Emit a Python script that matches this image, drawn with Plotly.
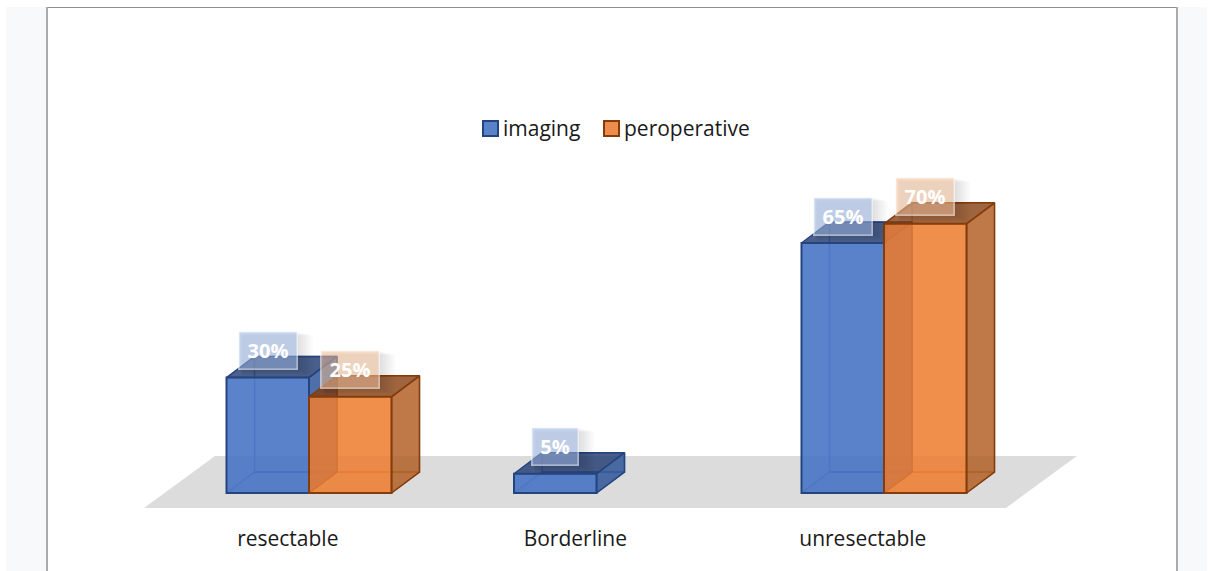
import plotly.graph_objects as go

categories = ["resectable", "Borderline", "unresectable"]
imaging = [30, 5, 65]
peroperative = [25, None, 70]
series_names = ["imaging", "peroperative"]

W, H, MB = 1213, 571, 53
PX_PER_CAT = 287.5
PX_PER_PCT = 3.846
X0_PX, Y0_PX = 309.0, 493.0
BAR_W = 82.5 / PX_PER_CAT
DX = 28 / PX_PER_CAT
DZ = 21 / PX_PER_PCT
PLOT_H = H - MB
x_range = [(0 - X0_PX) / PX_PER_CAT, (W - X0_PX) / PX_PER_CAT]
y_range = [(Y0_PX - PLOT_H) / PX_PER_PCT, Y0_PX / PX_PER_PCT]

BLUE = dict(front="rgba(68,114,196,0.88)", edge="#24447f", back="rgba(47,85,151,0.06)",
            top="rgba(31,56,110,0.8)", side="rgba(47,85,151,0.84)", floor="rgba(68,114,196,0.08)",
            inner="rgba(36,68,127,0.5)", box="rgba(160,187,232,0.55)", swatch="#5a82c9")
ORANGE = dict(front="rgba(237,125,49,0.86)", edge="#843c0c", back="rgba(197,90,17,0.06)",
              top="rgba(132,60,12,0.78)", side="rgba(175,90,30,0.8)", floor="rgba(237,125,49,0.08)",
              inner="rgba(132,60,12,0.4)", box="rgba(246,196,160,0.55)", swatch="#ee8c4b")

fig = go.Figure()


def poly(xs, ys, fill, line=None, width=1.5):
    fig.add_trace(go.Scatter(x=xs + xs[:1], y=ys + ys[:1], mode="lines", fill="toself", fillcolor=fill,
                             line=dict(color=line or "rgba(0,0,0,0)", width=width),
                             hoverinfo="skip", showlegend=False))


# floor
poly([-0.574, 2.424, 2.671, -0.327], [-3.9, -3.9, 9.6, 9.6], "#dcdcdc")

boxes = []
for values, style, off in ((imaging, BLUE, -BAR_W / 2), (peroperative, ORANGE, BAR_W / 2)):
    for i, v in enumerate(values):
        if v is None:
            continue
        c = i + off
        x0, x1 = c - BAR_W / 2, c + BAR_W / 2
        poly([x0, x1, x1 + DX, x0 + DX], [0, 0, DZ, DZ], style["floor"], style["inner"])
        poly([x0 + DX, x1 + DX, x1 + DX, x0 + DX], [DZ, DZ, v + DZ, v + DZ], style["back"], style["inner"])
        poly([x1, x1 + DX, x1 + DX, x1], [0, DZ, v + DZ, v], style["side"], style["edge"])
        poly([x0, x1, x1 + DX, x0 + DX], [v, v, v + DZ, v + DZ], style["top"], style["edge"])
        boxes.append((c, v, style["box"]))

for name, values, style in ((series_names[0], imaging, BLUE), (series_names[1], peroperative, ORANGE)):
    fig.add_trace(go.Bar(x=list(range(len(categories))), y=values, name=name,
                         xaxis="x2", yaxis="y2", showlegend=False,
                         marker=dict(color=style["front"], line=dict(color=style["edge"], width=2)),
                         hoverinfo="skip"))

shapes = []
annotations = []


def px2paper(xp, yp):
    return xp / W, (PLOT_H - yp) / PLOT_H


def panel(x0, y0, x1, y1, color, line=None, layer="below"):
    a, b = px2paper(x0, y0)
    c, d = px2paper(x1, y1)
    shapes.append(dict(type="rect", xref="paper", yref="paper", x0=a, y0=b, x1=c, y1=d,
                       fillcolor=color, line=dict(color=line, width=2) if line else dict(width=0), layer=layer))


panel(6, 7, 46, 571, "#f8f9fb")
panel(1178, 7, 1207, 571, "#f8f9fb")
panel(46, 7, 48, 571, "#ababab")
panel(1176, 7, 1178, 571, "#ababab")
panel(48, 7, 1176, 8, "#8e8e8e")

# legend
for name, style, sw_x, tx_x in ((series_names[0], BLUE, 483, 502), (series_names[1], ORANGE, 604, 623)):
    panel(sw_x, 121, sw_x + 15, 136, style["swatch"], style["edge"])
    a, b = px2paper(tx_x, 128)
    annotations.append(dict(x=a, y=b, xref="paper", yref="paper", text=name, showarrow=False,
                            xanchor="left", yanchor="middle", xshift=-1,
                            font=dict(family="Open Sans", size=21, color="#1a1a1a")))

# data labels with a soft shadow, falling to the right of each box
for c, v, box in boxes:
    half_w = (23 if v < 10 else 29) / PX_PER_CAT
    half_h = 18.5 / PX_PER_PCT
    cy = v + 27 / PX_PER_PCT
    for grow in range(14, -1, -2):
        g_x, g_y = grow / PX_PER_CAT, grow / PX_PER_PCT
        shapes.append(dict(type="rect", xref="x", yref="y", layer="above",
                           x0=c - half_w + g_x / 4, x1=c + half_w + 2 / PX_PER_CAT + g_x,
                           y0=cy - half_h - g_y / 2, y1=cy + half_h - g_y / 4,
                           fillcolor="rgba(0,0,0,0.016)", line_width=0))
    annotations.append(dict(x=c, y=cy, xref="x", yref="y", text=f"<b>{v}%</b>", showarrow=False,
                            width=(46 if v < 10 else 58) - 3, height=34,
                            bgcolor=box, bordercolor="rgba(255,255,255,0.55)", borderwidth=1.5,
                            font=dict(family="Open Sans", size=20, color="white")))

axis_common = dict(range=x_range, showgrid=False, zeroline=False, showline=False, fixedrange=True)
fig.update_layout(
    width=W, height=H, margin=dict(l=0, r=0, t=0, b=MB, pad=0), autosize=False,
    paper_bgcolor="white", plot_bgcolor="rgba(0,0,0,0)", showlegend=False,
    barmode="group", bargap=1 - 2 * BAR_W, bargroupgap=0,
    shapes=shapes, annotations=annotations,
    font=dict(family="Open Sans", color="#1a1a1a", size=21),
    xaxis=dict(**axis_common, tickmode="array", tickvals=[i - DX / 2 - 0.025 for i in range(3)],
               ticktext=categories, ticks="", tickfont=dict(size=21), ticklabelstandoff=6),
    yaxis=dict(range=y_range, visible=False, fixedrange=True),
    xaxis2=dict(**axis_common, overlaying="x", visible=False, matches="x"),
    yaxis2=dict(range=y_range, overlaying="y", visible=False, matches="y"),
)
fig.write_html("out.html", post_script="document.body.style.margin='0';", config=dict(displayModeBar=False))
